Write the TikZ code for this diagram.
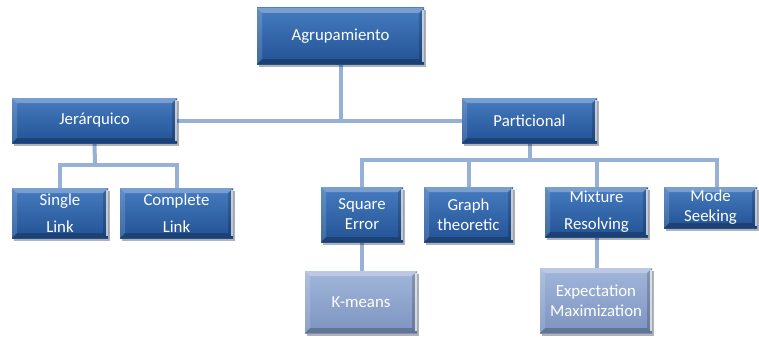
\documentclass[tikz,border=0pt]{standalone}
\usepackage{fontspec}
\setmainfont{Carlito}
\usetikzlibrary{shadows,backgrounds}
\definecolor{darktop}{RGB}{70,124,192}
\definecolor{darkbot}{RGB}{34,82,148}
\definecolor{lighttop}{RGB}{162,182,218}
\definecolor{lightbot}{RGB}{124,148,192}
\definecolor{conncol}{RGB}{150,176,214}
\tikzset{
  bevel/.style={path picture={
    \fill[white,opacity=.28] (path picture bounding box.north west) -- (path picture bounding box.north east)
      -- ([xshift=-5pt,yshift=-5pt]path picture bounding box.north east) -- ([xshift=5pt,yshift=-5pt]path picture bounding box.north west) -- cycle;
    \fill[white,opacity=.14] (path picture bounding box.north west) -- ([xshift=5pt,yshift=-5pt]path picture bounding box.north west)
      -- ([xshift=5pt,yshift=5pt]path picture bounding box.south west) -- (path picture bounding box.south west) -- cycle;
    \fill[black,opacity=.18] (path picture bounding box.north east) -- ([xshift=-5pt,yshift=-5pt]path picture bounding box.north east)
      -- ([xshift=-5pt,yshift=5pt]path picture bounding box.south east) -- (path picture bounding box.south east) -- cycle;
    \fill[black,opacity=.22] (path picture bounding box.south west) -- ([xshift=5pt,yshift=5pt]path picture bounding box.south west)
      -- ([xshift=-5pt,yshift=5pt]path picture bounding box.south east) -- (path picture bounding box.south east) -- cycle;
    \draw[white,opacity=.7,line width=1.2pt] ([xshift=-1pt,yshift=-2pt]path picture bounding box.north east) -- ([xshift=-1pt,yshift=2pt]path picture bounding box.south east);
  }},
  darkbox/.style={bevel, top color=darktop, bottom color=darkbot, draw=none,
    inner sep=0pt, outer sep=0pt, text=white, align=center,
    font={\fontsize{16.8}{20}\selectfont},
    drop shadow={shadow xshift=1.5pt, shadow yshift=-2.5pt, opacity=.3, fill=black}},
  lightbox/.style={darkbox, top color=lighttop, bottom color=lightbot},
  conn/.style={draw=conncol, line width=4pt}
}
\begin{document}
\begin{tikzpicture}[x=1pt,y=-1pt]
\useasboundingbox (0,0) rectangle (759,337);
\node[darkbox, minimum width=167pt, minimum height=56pt] (agr) at (340.5,36) {Agrupamiento};
\node[darkbox, minimum width=165pt, minimum height=45pt] (jer) at (94.5,120.5) {Jerárquico};
\node[darkbox, minimum width=135pt, minimum height=45pt] (par) at (529.5,120.5) {Particional};
\node[darkbox, minimum width=96pt, minimum height=50pt] (single) at (60,213) {Single\\[7pt]Link};
\node[darkbox, minimum width=113pt, minimum height=50pt] (complete) at (176.5,213) {Complete\\[7pt]Link};
\node[darkbox, minimum width=82pt, minimum height=55pt] (square) at (362,214.5) {Square\\Error};
\node[darkbox, minimum width=89pt, minimum height=55pt] (graph) at (468.5,214.5) {Graph\\theoretic};
\node[darkbox, minimum width=103pt, minimum height=50pt] (mixture) at (596.5,212) {Mixture\\[7pt]Resolving};
\node[darkbox, minimum width=93pt, minimum height=41pt] (mode) at (710.5,207.5) {Mode\\Seeking};
\node[lightbox, minimum width=112pt, minimum height=62pt] (kmeans) at (361,302) {K-means};
\node[lightbox, minimum width=112pt, minimum height=65pt] (expect) at (596,300.5) {Expectation\\Maximization};
\coordinate (jbus) at (95,165);
\coordinate (pbus) at (529.5,160);
\begin{scope}[on background layer]
\draw[conn] (agr.south) -- (agr.south |- jer.east);
\draw[conn] (jer.east) -- (par.west);
\draw[conn] (jer.south) -- (jbus);
\draw[conn] (single.north) |- (jbus) -| (complete.north);
\draw[conn] (par.south) -- (pbus);
\draw[conn] (square.north) |- (pbus) -| ([xshift=6.5pt]mode.north);
\draw[conn] (graph.north) -- (graph.north |- pbus);
\draw[conn] (mixture.north) -- (mixture.north |- pbus);
\draw[conn] (square.south) -- (square.south |- kmeans.north);
\draw[conn] (mixture.south) -- (mixture.south |- expect.north);
\end{scope}
\end{tikzpicture}
\end{document}
